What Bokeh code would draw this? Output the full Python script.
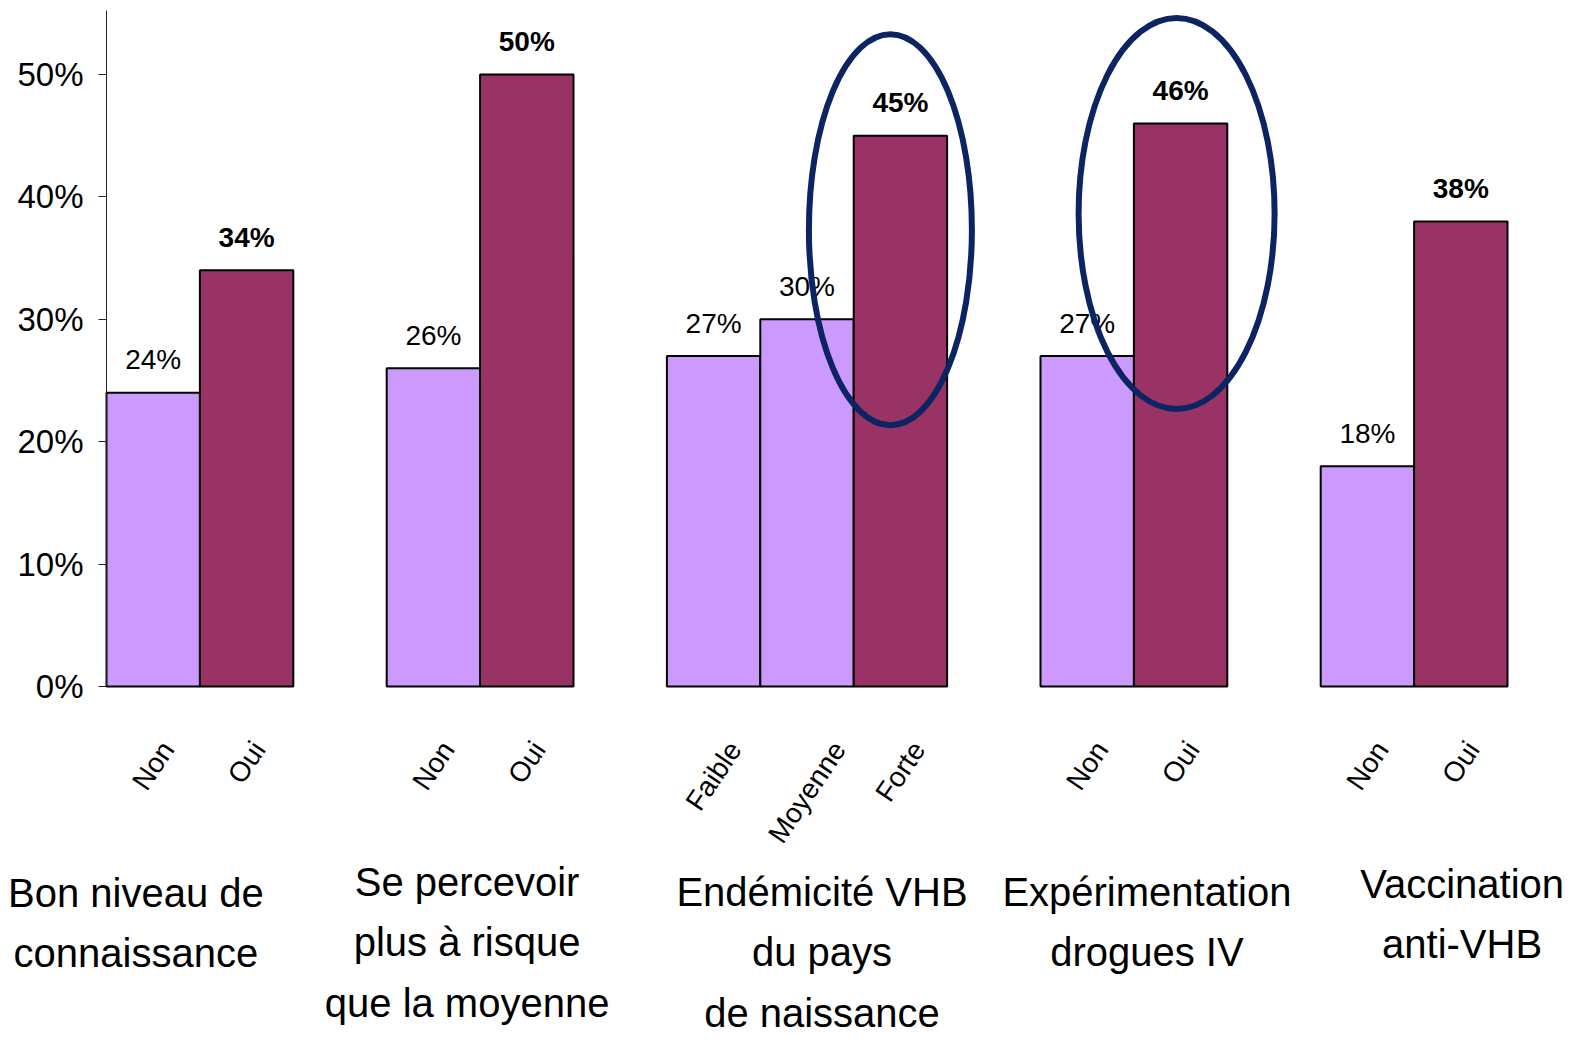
import math
from bokeh.plotting import figure
from bokeh.models import Range1d, NumeralTickFormatter, FixedTicker
from bokeh.core.properties import value
from bokeh.embed import file_html
from bokeh.resources import INLINE

# ---------------- data ----------------
group_names = [
    "Bon niveau de\nconnaissance",
    "Se percevoir\nplus à risque\nque la moyenne",
    "Endémicité VHB\ndu pays\nde naissance",
    "Expérimentation\ndrogues IV",
    "Vaccination\nanti-VHB",
]
bar_names = [
    ["Non", "Oui"],
    ["Non", "Oui"],
    ["Faible", "Moyenne", "Forte"],
    ["Non", "Oui"],
    ["Non", "Oui"],
]
bar_values = [
    [0.24, 0.34],
    [0.26, 0.50],
    [0.27, 0.30, 0.45],
    [0.27, 0.46],
    [0.18, 0.38],
]
y_ticks = [0.0, 0.1, 0.2, 0.3, 0.4, 0.5]
highlighted = [(2, 2), (3, 1)]  # (group, bar) circled

# ---------------- style ----------------
LIGHT = "#CC99FF"
DARK = "#993366"
NAVY = "#0C2461"
FONT = "Liberation Sans"

W, H = 1572, 1039
LEFT = 106
SLOT_PX = 93.4
Y_PX = 1224.0           # px per 100 %
ZERO_PX = 686.0         # y of 0 % from figure top
y_end = ZERO_PX / Y_PX
y_start = y_end - H / Y_PX
x_start = -LEFT / SLOT_PX
x_end = (W - LEFT) / SLOT_PX

def dy(px):  # pixel distance -> data units (y)
    return px / Y_PX

def dx(px):
    return px / SLOT_PX

# approximate Arial advance widths (em) for rotated-label box sizing
CW = {"N": .722, "o": .556, "n": .556, "O": .778, "u": .556, "i": .222, "F": .611,
      "a": .556, "b": .556, "l": .222, "e": .556, "M": .833, "y": .5, "r": .333, "t": .278}
ROT_FS = 28
ROT_ANGLE = math.radians(56)
ROT_TOP = 50            # px below 0 % of the rotated labels' top

# group label offsets (px, relative to group centre) and first-line top (px below 0 %)
glabel_dx = [-64, -13, 15, 13, 48]
glabel_top = [184, 173, 183, 183, 175]
ell_dx = [-10, -4]
ell_dy = [-94, -90]
ell_w = [163, 196]
ell_h = [391, 391]

# ---------------- positions from data ----------------
xs, tops, names, kinds, centers = [], [], [], [], []
pos = 0
bar_x = {}
for gi, (nm, vals) in enumerate(zip(bar_names, bar_values)):
    gx = []
    for bi, (n, v) in enumerate(zip(nm, vals)):
        x = pos + 0.5
        xs.append(x); tops.append(v); names.append(n)
        kinds.append("dark" if bi == len(vals) - 1 else "light")
        bar_x[(gi, bi)] = (x, v)
        gx.append(x)
        pos += 1
    centers.append(sum(gx) / len(gx))
    pos += 1

p = figure(width=W, height=H, x_range=Range1d(x_start, x_end), y_range=Range1d(y_start, y_end),
           output_backend="svg", toolbar_location=None,
           min_border_left=0, min_border_right=0, min_border_top=0, min_border_bottom=0)
p.xaxis.visible = False
p.xgrid.visible = False
p.ygrid.visible = False
p.outline_line_color = None
p.background_fill_color = "white"
p.border_fill_color = "white"

ax = p.yaxis[0]
ax.fixed_location = 0
ax.ticker = FixedTicker(ticks=y_ticks)
ax.formatter = NumeralTickFormatter(format="0%")
ax.bounds = (0, 0.552)
ax.major_tick_out = 8
ax.major_tick_in = 0
ax.minor_tick_out = 0
ax.minor_tick_in = 0
ax.axis_line_color = "#222222"
ax.major_tick_line_color = "#222222"
ax.major_label_text_font = FONT
ax.major_label_text_font_size = "33px"
ax.major_label_text_color = "black"
ax.major_label_standoff = 15

colors = [DARK if k == "dark" else LIGHT for k in kinds]
p.vbar(x=xs, top=tops, bottom=0, width=1.0, fill_color=colors,
       line_color="black", line_width=2)

# value labels
lx = [x for x, k in zip(xs, kinds) if k == "light"]
ly = [t for t, k in zip(tops, kinds) if k == "light"]
dx_ = [x for x, k in zip(xs, kinds) if k == "dark"]
dy_ = [t for t, k in zip(tops, kinds) if k == "dark"]
p.text(x=lx, y=ly, text=[f"{round(v*100)}%" for v in ly], text_align="center",
       text_baseline="alphabetic", y_offset=-33, text_font=value(FONT),
       text_font_size="28px", text_color="black")
p.text(x=dx_, y=dy_, text=[f"{round(v*100)}%" for v in dy_], text_align="center",
       text_baseline="alphabetic", y_offset=-33, text_font=value(FONT),
       text_font_style="bold", text_font_size="28px", text_color="black")

# rotated category labels: bounding box centred under the bar, tops aligned
rot_y = []
for n in names:
    L = sum(CW.get(c, .556) for c in n) * ROT_FS
    h = ROT_FS
    box_h = L * math.sin(ROT_ANGLE) + h * math.cos(ROT_ANGLE)
    rot_y.append(-dy(ROT_TOP + box_h / 2))
p.text(x=xs, y=rot_y, text=names,
       angle=ROT_ANGLE, text_align="center", text_baseline="middle",
       text_font=value(FONT), text_font_size=f"{ROT_FS}px", text_color="black")

# group labels
gx_ = [centers[i] + dx(glabel_dx[i]) for i in range(len(group_names))]
gy_ = [-dy(glabel_top[i]) for i in range(len(group_names))]
p.text(x=gx_, y=gy_, text=group_names, text_align="center", text_baseline="top",
       text_line_height=1.38, text_font=value(FONT),
       text_font_size="40px", text_color="black")

# highlight ellipses
ex, ey, ew, eh = [], [], [], []
for i, key in enumerate(highlighted):
    bx, bv = bar_x[key]
    ex.append(bx + dx(ell_dx[i])); ey.append(bv + dy(ell_dy[i]))
    ew.append(dx(ell_w[i])); eh.append(dy(ell_h[i]))
p.ellipse(x=ex, y=ey, width=ew, height=eh, fill_color=None,
          line_color=NAVY, line_width=6)

open("out.html", "w").write(file_html(p, INLINE))
